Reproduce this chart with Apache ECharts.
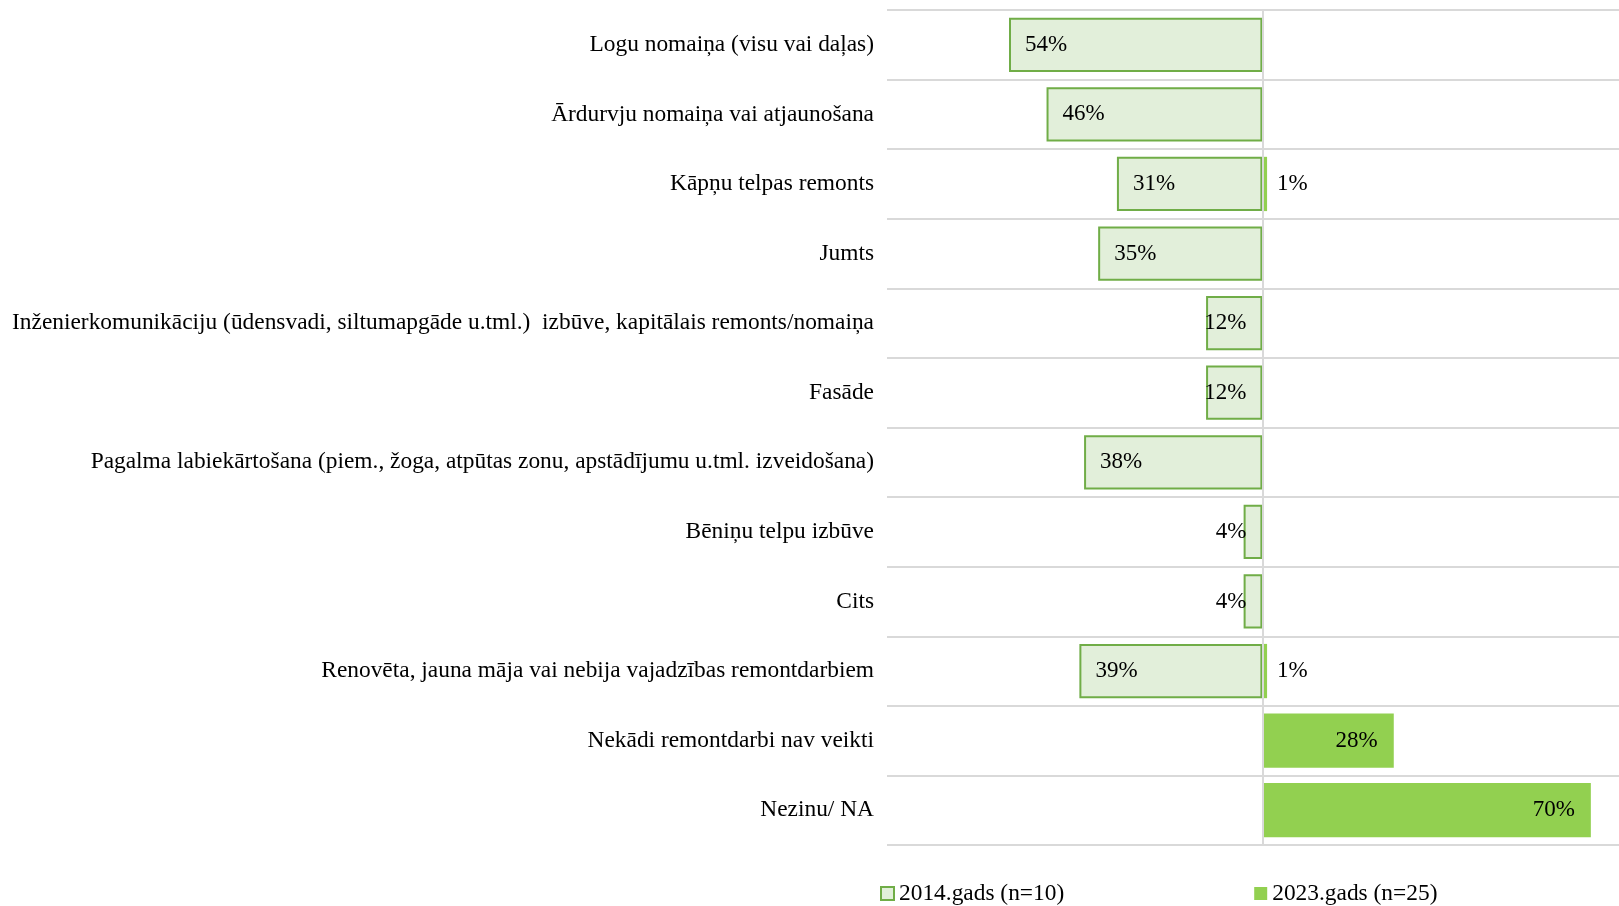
<!DOCTYPE html>
<html>
<head>
<meta charset="utf-8">
<script src="https://cdn.jsdelivr.net/npm/echarts@6/dist/echarts.min.js"></script>
<style>
  html, body { margin: 0; padding: 0; background: #fff; }
  #chart { width: 1619px; height: 906px; }
</style>
</head>
<body>
<div id="chart"></div>
<script>
// kategorijas (no augšas uz leju)
const categories = [
  'Logu nomaiņa (visu vai daļas)',
  'Ārdurvju nomaiņa vai atjaunošana',
  'Kāpņu telpas remonts',
  'Jumts',
  'Inženierkomunikāciju (ūdensvadi, siltumapgāde u.tml.)  izbūve, kapitālais remonts/nomaiņa',
  'Fasāde',
  'Pagalma labiekārtošana (piem., žoga, atpūtas zonu, apstādījumu u.tml. izveidošana)',
  'Bēniņu telpu izbūve',
  'Cits',
  'Renovēta, jauna māja vai nebija vajadzības remontdarbiem',
  'Nekādi remontdarbi nav veikti',
  'Nezinu/ NA'
]
const legendNames = ['2014.gads (n=10)', '2023.gads (n=25)']
const values2014 = [54, 46, 31, 35, 12, 12, 38, 4, 4, 39, null, null]
const values2023 = [null, null, 1, null, null, null, null, null, null, 1, 28, 70]

const font = 'Liberation Serif, Times New Roman, serif'

const myChart = echarts.init(document.getElementById('chart'))

const options = {
  animation: false,
  grid: {
    left: 887,
    right: 0,
    top: 10,
    bottom: 61
  },
  legend: {
    data: legendNames,
    left: 875,
    top: 877,
    icon: 'rect',
    itemWidth: 13,
    itemHeight: 13,
    itemGap: 190,
    textStyle: {
      fontFamily: font,
      fontSize: 23.4,
      color: '#000'
    }
  },
  xAxis: {
    type: 'value',
    min: -80,
    max: 76,
    show: false
  },
  yAxis: {
    type: 'category',
    inverse: true,
    data: categories,
    axisLine: { show: false },
    axisTick: { show: false },
    axisLabel: {
      margin: 13,
      fontFamily: font,
      fontSize: 23.4,
      color: '#000'
    },
    splitLine: {
      show: true,
      lineStyle: { color: '#d9d9d9', width: 2 }
    }
  },
  series: [
    {
      name: legendNames[0],
      type: 'bar',
      stack: 'all',
      barCategoryGap: '22%',
      itemStyle: {
        color: '#e2efda',
        borderColor: '#70ad47',
        borderWidth: 2
      },
      label: {
        show: true,
        distance: 16,
        fontFamily: font,
        fontSize: 23,
        color: '#000',
        formatter: p => Math.abs(p.value) + '%'
      },
      // mazās joslas - uzraksts pie nulles
      data: values2014.map(v => v == null ? '-' : {
        value: -v,
        label: { position: v < 20 ? 'insideRight' : 'insideLeft' }
      })
    },
    {
      name: legendNames[1],
      type: 'bar',
      stack: 'all',
      barCategoryGap: '22%',
      itemStyle: {
        color: '#92d050'
      },
      label: {
        show: true,
        fontFamily: font,
        fontSize: 23,
        color: '#000',
        formatter: p => p.value + '%'
      },
      data: values2023.map(v => v == null ? '-' : {
        value: v,
        label: v < 5 ? { position: 'right', distance: 10 } : { position: 'insideRight', distance: 16 }
      }),
      markLine: {
        silent: true,
        symbol: 'none',
        label: { show: false },
        lineStyle: { color: '#d9d9d9', width: 2, type: 'solid' },
        data: [{ xAxis: 0 }]
      }
    }
  ]
}

myChart.setOption(options)
window.addEventListener('resize', () => {
  myChart.resize()
})
</script>
</body>
</html>
